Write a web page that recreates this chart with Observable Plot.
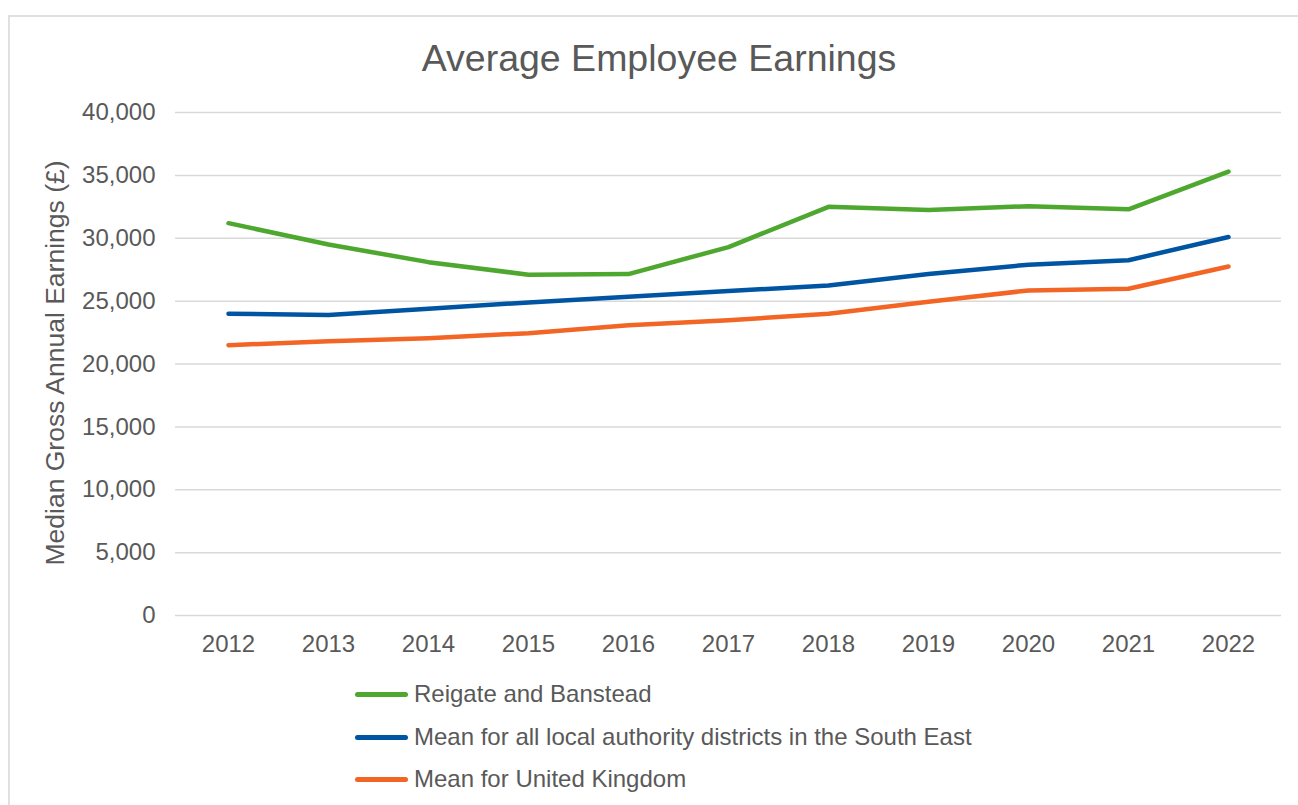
<!DOCTYPE html>
<html>
<head>
<meta charset="utf-8">
<script src="https://cdn.jsdelivr.net/npm/d3@7"></script>
<script src="https://cdn.jsdelivr.net/npm/@observablehq/plot@0.6"></script>
<style>
  html, body { margin: 0; padding: 0; background: #fff; overflow: hidden; }
  #wrap { position: relative; width: 1298px; height: 805px; font-family: "Liberation Sans", Arial, sans-serif; color: #595959; }
  #frame { position: absolute; left: 8px; top: 15px; width: 1400px; height: 900px; border: 2px solid #e0e0e0; box-sizing: border-box; }
  #title { position: absolute; left: 0; top: 40px; width: 1318px; text-align: center; font-size: 37.5px; line-height: 37.5px; white-space: nowrap; }
  #ytitle { position: absolute; left: 55px; top: 363px; transform: translate(-50%, -50%) rotate(-90deg); font-size: 26.5px; line-height: 26.5px; white-space: nowrap; }
  #chart { position: absolute; left: 0; top: 0; }
  #legend { position: absolute; left: 355px; top: 0; }
  .lg { position: absolute; left: 0; white-space: nowrap; font-size: 24px; line-height: 24px; }
  .sw { display: inline-block; width: 53px; height: 5px; border-radius: 3px; vertical-align: middle; margin-right: 6px; position: relative; top: -1px; }
</style>
</head>
<body>
<div id="wrap">
  <div id="frame"></div>
  <div id="chart"></div>
  <div id="title">Average Employee Earnings</div>
  <div id="ytitle">Median Gross Annual Earnings (£)</div>
  <div id="legend"></div>
</div>
<script>
const years = ["2012","2013","2014","2015","2016","2017","2018","2019","2020","2021","2022"];
const seriesNames = [
  "Reigate and Banstead",
  "Mean for all local authority districts in the South East",
  "Mean for United Kingdom"
];
const seriesColors = ["#4EA72E", "#0055A2", "#F26524"];
const reigate   = [31200, 29500, 28100, 27100, 27150, 29300, 32500, 32250, 32550, 32300, 35300];
const southEast = [24000, 23900, 24400, 24900, 25350, 25800, 26250, 27150, 27900, 28250, 30100];
const uk        = [21500, 21800, 22050, 22450, 23080, 23480, 24000, 24950, 25850, 25980, 27750];
const yTicks = [0, 5000, 10000, 15000, 20000, 25000, 30000, 35000, 40000];

const allValues = [reigate, southEast, uk];
const data = [];
seriesNames.forEach((s, i) => {
  years.forEach((y, j) => data.push({series: s, year: y, value: allValues[i][j]}));
});

const chart = Plot.plot({
  width: 1298,
  height: 680,
  marginTop: 112,
  marginBottom: 65,
  marginLeft: 175,
  marginRight: 17,
  style: {fontFamily: '"Liberation Sans", Arial, sans-serif', fontSize: "24px", color: "#595959", background: "transparent", overflow: "visible"},
  x: {type: "point", domain: years, padding: 0.5},
  y: {domain: [0, 40000]},
  color: {domain: seriesNames, range: seriesColors},
  marks: [
    Plot.ruleY(yTicks, {stroke: "#d9d9d9", strokeWidth: 1.5}),
    Plot.axisY({ticks: yTicks, tickSize: 0, tickPadding: 20, tickFormat: d3.format(","), label: null, fontSize: 24}),
    Plot.axisX({tickSize: 0, tickPadding: 19, label: null, fontSize: 24}),
    Plot.line(data, {x: "year", y: "value", z: "series", stroke: "series", strokeWidth: 4.5, strokeLinecap: "round", strokeLinejoin: "round"})
  ]
});
document.getElementById("chart").appendChild(chart);

const legendTops = [694, 737, 779];
const legend = document.getElementById("legend");
seriesNames.forEach((s, i) => {
  const row = document.createElement("div");
  row.className = "lg";
  row.style.top = (legendTops[i] - 12) + "px";
  const sw = document.createElement("span");
  sw.className = "sw";
  sw.style.background = seriesColors[i];
  row.appendChild(sw);
  row.appendChild(document.createTextNode(s));
  legend.appendChild(row);
});
</script>
</body>
</html>
